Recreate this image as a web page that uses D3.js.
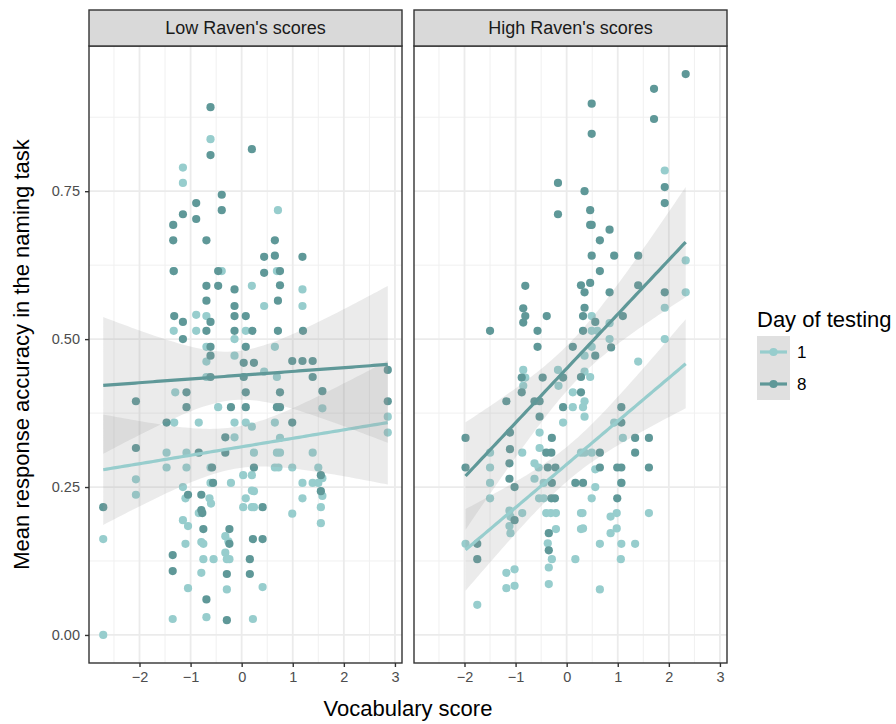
<!DOCTYPE html>
<html>
<head>
<meta charset="utf-8">
<title>Naming accuracy by vocabulary</title>
<script src="https://d3js.org/d3.v7.min.js"></script>
<style>
  body { margin: 0; background: #fff; }
  svg { display: block; }
  text { font-family: "Liberation Sans", Arial, Helvetica, sans-serif; }
</style>
</head>
<body>
<svg width="896" height="724"></svg>
<script>
// facet labels and legend levels
const facets = ["Low Raven's scores", "High Raven's scores"];
const days = ["1", "8"];
const dayColors = ["#97cdcd", "#5f9898"];
const xTicks = [-2, -1, 0, 1, 2, 3];
const yTicks = [0, 0.25, 0.5, 0.75];

// [vocabulary score, mean accuracy]
const lowDay1 = [[-0.61,0.838],[-1.15,0.790],[-1.15,0.764],[0.71,0.718],[-1.33,0.615],[-0.39,0.615],[0.69,0.615],[0.20,0.590],[1.19,0.584],[0.44,0.556],[1.19,0.556],[-0.89,0.541],[-0.69,0.539],[-1.33,0.514],[-0.89,0.514],[0.08,0.514],[-0.14,0.500],[-0.69,0.487],[0.65,0.487],[-0.14,0.472],[-0.69,0.462],[-0.69,0.436],[0.44,0.445],[0.69,0.436],[-1.30,0.410],[-0.46,0.385],[1.58,0.383],[2.86,0.369],[2.86,0.342],[-1.32,0.359],[-0.84,0.359],[-0.14,0.359],[0.08,0.359],[0.20,0.352],[0.65,0.359],[-0.14,0.334],[0.75,0.333],[-1.47,0.308],[-1.08,0.308],[0.24,0.308],[0.69,0.308],[0.75,0.308],[1.39,0.308],[-1.47,0.283],[-1.08,0.283],[-0.61,0.283],[0.65,0.283],[0.72,0.283],[0.99,0.283],[1.50,0.283],[-2.07,0.263],[-2.07,0.237],[-2.71,0.162],[-2.71,0.0],[-1.15,0.250],[-1.10,0.231],[-0.63,0.231],[-0.60,0.222],[-0.61,0.257],[-0.21,0.257],[0.03,0.270],[0.20,0.270],[0.20,0.244],[0.08,0.231],[0.03,0.216],[0.20,0.216],[-0.84,0.206],[-1.15,0.194],[-1.05,0.184],[-0.32,0.167],[-1.10,0.154],[-0.79,0.157],[-0.75,0.154],[-0.26,0.158],[-0.75,0.128],[-0.55,0.128],[-0.32,0.139],[-0.29,0.128],[-0.24,0.128],[-0.79,0.105],[-1.05,0.079],[-0.29,0.077],[-1.35,0.027],[-0.69,0.030],[0.22,0.027],[1.58,0.265],[1.19,0.257],[1.39,0.257],[1.50,0.257],[0.24,0.243],[1.58,0.235],[1.19,0.231],[0.24,0.216],[1.55,0.216],[0.99,0.205],[1.55,0.189],[0.41,0.081]];

const lowDay8 = [[-0.61,0.892],[-0.61,0.811],[0.20,0.821],[-0.39,0.744],[-0.89,0.730],[-1.15,0.711],[-0.89,0.703],[-0.39,0.718],[-1.34,0.693],[-1.34,0.667],[-0.69,0.667],[0.65,0.667],[0.44,0.639],[0.65,0.641],[1.19,0.639],[-1.33,0.615],[-0.46,0.615],[-0.69,0.590],[-0.46,0.590],[-0.14,0.584],[-0.69,0.565],[-0.14,0.556],[-1.32,0.539],[-1.15,0.529],[-0.61,0.529],[-0.14,0.539],[0.08,0.539],[-0.69,0.514],[-0.14,0.514],[0.21,0.514],[-1.15,0.500],[-0.61,0.487],[0.08,0.487],[-0.61,0.472],[0.04,0.460],[0.24,0.460],[-0.61,0.436],[0.04,0.436],[-1.08,0.410],[0.08,0.410],[-2.07,0.395],[-1.08,0.385],[-0.21,0.385],[0.08,0.385],[-1.47,0.359],[-0.32,0.334],[-2.07,0.316],[-0.84,0.308],[-0.32,0.308],[0.44,0.612],[0.75,0.615],[0.75,0.591],[0.71,0.565],[0.71,0.514],[1.20,0.514],[0.99,0.463],[1.19,0.463],[1.39,0.463],[1.39,0.436],[2.86,0.448],[0.75,0.410],[1.58,0.412],[0.69,0.385],[0.75,0.385],[2.86,0.395],[0.99,0.359],[0.24,0.283],[-2.71,0.216],[-0.58,0.283],[-1.05,0.237],[-0.79,0.237],[-0.56,0.257],[-0.79,0.211],[-0.77,0.206],[-0.75,0.179],[-0.24,0.179],[-1.35,0.135],[-0.24,0.154],[0.22,0.162],[0.16,0.128],[-1.35,0.108],[-0.29,0.103],[0.16,0.103],[-0.69,0.060],[-0.29,0.025],[1.55,0.270],[1.55,0.243],[0.41,0.216],[0.41,0.162]];

const highDay1 = [[1.92,0.785],[2.33,0.633],[2.33,0.579],[0.49,0.539],[1.92,0.553],[0.84,0.527],[0.49,0.514],[0.60,0.514],[0.84,0.500],[1.92,0.500],[0.49,0.487],[0.35,0.472],[1.40,0.462],[0.35,0.445],[0.46,0.436],[0.12,0.410],[0.35,0.395],[0.12,0.385],[0.32,0.385],[0.35,0.369],[0.93,0.359],[1.10,0.333],[0.28,0.308],[0.35,0.308],[0.49,0.308],[0.56,0.280],[-0.85,0.448],[-0.81,0.435],[-0.85,0.421],[-0.17,0.448],[-0.16,0.421],[-0.07,0.359],[-0.53,0.342],[-0.87,0.308],[-0.53,0.316],[-1.50,0.308],[-0.63,0.290],[-1.50,0.283],[-0.55,0.283],[-1.50,0.257],[-0.63,0.264],[-0.45,0.257],[-1.50,0.231],[-0.54,0.231],[-0.45,0.231],[-1.12,0.210],[-0.87,0.206],[-1.10,0.200],[-0.40,0.206],[-0.31,0.206],[-0.21,0.206],[0.28,0.206],[-1.12,0.184],[-1.10,0.172],[-0.21,0.179],[0.28,0.179],[-1.98,0.154],[-0.37,0.155],[-0.29,0.128],[0.17,0.128],[-1.18,0.105],[-1.02,0.111],[-0.35,0.114],[-1.18,0.079],[-1.02,0.083],[-0.35,0.086],[-1.75,0.051],[1.07,0.257],[0.56,0.250],[0.49,0.231],[0.31,0.206],[0.86,0.200],[0.98,0.206],[1.61,0.206],[0.32,0.180],[0.86,0.172],[0.98,0.180],[0.65,0.154],[1.07,0.154],[1.34,0.154],[1.06,0.128],[0.65,0.077]];

const highDay8 = [[0.49,0.898],[0.49,0.847],[1.71,0.923],[1.71,0.872],[2.33,0.948],[1.92,0.757],[1.92,0.730],[-0.17,0.764],[-0.17,0.711],[0.35,0.750],[0.46,0.718],[0.46,0.693],[0.49,0.693],[0.84,0.685],[0.65,0.667],[0.49,0.641],[0.93,0.641],[1.40,0.641],[0.65,0.615],[0.28,0.591],[0.46,0.595],[0.35,0.579],[0.84,0.579],[1.40,0.591],[1.92,0.579],[0.35,0.553],[0.32,0.539],[0.56,0.529],[1.10,0.539],[0.32,0.514],[0.87,0.486],[0.12,0.487],[0.56,0.472],[0.28,0.436],[0.28,0.410],[1.07,0.385],[1.07,0.359],[1.34,0.333],[1.61,0.333],[0.65,0.308],[1.34,0.308],[0.65,0.283],[0.99,0.283],[1.07,0.283],[1.61,0.283],[0.17,0.257],[0.32,0.257],[1.07,0.257],[0.99,0.231],[-0.81,0.590],[-0.85,0.552],[-0.81,0.539],[-0.85,0.528],[-0.39,0.539],[-1.50,0.514],[-0.57,0.514],[-0.57,0.487],[-0.88,0.435],[-0.47,0.435],[-0.07,0.435],[-0.88,0.410],[-1.18,0.395],[-0.63,0.395],[-0.53,0.395],[-0.07,0.385],[-0.53,0.369],[-1.98,0.333],[-1.11,0.342],[-0.29,0.333],[-1.11,0.314],[-0.40,0.308],[-0.30,0.308],[-1.12,0.290],[-1.98,0.283],[-0.37,0.283],[-0.22,0.283],[-1.12,0.264],[-1.02,0.250],[-0.29,0.257],[-0.30,0.231],[-0.23,0.231],[-1.02,0.194],[-0.35,0.172],[-1.75,0.154],[-1.75,0.128],[-0.35,0.143]];

const panelData = [[lowDay1, lowDay8], [highDay1, highDay8]];

const svg = d3.select("svg");
const panelTop = 46, panelBottom = 663, stripTop = 10;
const panelX = [[89, 402], [414, 727]];

// ggplot-like 5% expansion of the data range
const allPts = [].concat(lowDay1, lowDay8, highDay1, highDay8);
function expand(ext) { const d = (ext[1] - ext[0]) * 0.05; return [ext[0] - d, ext[1] + d]; }
const xDom = expand(d3.extent(allPts, d => d[0]));
const yDom = expand(d3.extent(allPts, d => d[1]));
const y = d3.scaleLinear().domain(yDom).range([panelBottom, panelTop]);

// linear fit with 95% confidence band, like geom_smooth(method = "lm")
function fitLm(pts) {
  const n = pts.length;
  const mx = d3.mean(pts, d => d[0]), my = d3.mean(pts, d => d[1]);
  const sxx = d3.sum(pts, d => (d[0] - mx) ** 2);
  const sxy = d3.sum(pts, d => (d[0] - mx) * (d[1] - my));
  const b = sxy / sxx, a = my - b * mx;
  const sse = d3.sum(pts, d => (d[1] - a - b * d[0]) ** 2);
  const s = Math.sqrt(sse / (n - 2));
  const t = 1.96 + 2.4 / (n - 2);
  const ext = d3.extent(pts, d => d[0]);
  const xs = d3.range(81).map(i => ext[0] + i / 80 * (ext[1] - ext[0]));
  return xs.map(xv => {
    const fit = a + b * xv;
    const hw = t * s * Math.sqrt(1 / n + (xv - mx) ** 2 / sxx);
    return { x: xv, fit: fit, lo: fit - hw, hi: fit + hw };
  });
}

const fmtY = d3.format(".2f");
const fmtX = d => d < 0 ? "\u2212" + Math.abs(d) : String(d);

panelX.forEach((px, p) => {
  const x = d3.scaleLinear().domain(xDom).range(px);
  const g = svg.append("g");

  // background grid
  const xMinor = d3.range(Math.ceil(xDom[0] * 2) / 2, xDom[1], 0.5).filter(v => !Number.isInteger(v));
  const yMinor = yTicks.map(v => v + 0.125).filter(v => v < yDom[1]);
  g.selectAll(".xminor").data(xMinor).join("line")
    .attr("x1", d => x(d)).attr("x2", d => x(d)).attr("y1", panelTop).attr("y2", panelBottom)
    .attr("stroke", "#f0f0f0").attr("stroke-width", 1);
  g.selectAll(".yminor").data(yMinor).join("line")
    .attr("x1", px[0]).attr("x2", px[1]).attr("y1", d => y(d)).attr("y2", d => y(d))
    .attr("stroke", "#f0f0f0").attr("stroke-width", 1);
  g.selectAll(".xmajor").data(xTicks).join("line")
    .attr("x1", d => x(d)).attr("x2", d => x(d)).attr("y1", panelTop).attr("y2", panelBottom)
    .attr("stroke", "#ebebeb").attr("stroke-width", 1.8);
  g.selectAll(".ymajor").data(yTicks).join("line")
    .attr("x1", px[0]).attr("x2", px[1]).attr("y1", d => y(d)).attr("y2", d => y(d))
    .attr("stroke", "#ebebeb").attr("stroke-width", 1.8);

  // points
  panelData[p].forEach((pts, k) => {
    g.append("g").selectAll("circle").data(pts).join("circle")
      .attr("cx", d => x(d[0])).attr("cy", d => y(d[1])).attr("r", 4.1)
      .attr("fill", dayColors[k]);
  });

  // smooths: ribbon then line for each group
  panelData[p].forEach((pts, k) => {
    const band = fitLm(pts);
    g.append("path").datum(band)
      .attr("d", d3.area().x(d => x(d.x)).y0(d => y(d.lo)).y1(d => y(d.hi)))
      .attr("fill", "#999999").attr("fill-opacity", 0.2);
    g.append("path").datum(band)
      .attr("d", d3.line().x(d => x(d.x)).y(d => y(d.fit)))
      .attr("fill", "none").attr("stroke", dayColors[k]).attr("stroke-width", 3.2);
  });

  // panel border
  g.append("rect").attr("x", px[0]).attr("y", panelTop)
    .attr("width", px[1] - px[0]).attr("height", panelBottom - panelTop)
    .attr("fill", "none").attr("stroke", "#333333").attr("stroke-width", 1.4);

  // strip
  g.append("rect").attr("x", px[0]).attr("y", stripTop)
    .attr("width", px[1] - px[0]).attr("height", panelTop - stripTop)
    .attr("fill", "#d9d9d9").attr("stroke", "#333333").attr("stroke-width", 1.4);
  g.append("text").attr("x", (px[0] + px[1]) / 2).attr("y", (stripTop + panelTop) / 2)
    .attr("dy", "0.35em").attr("text-anchor", "middle")
    .attr("font-size", 18).attr("fill", "#1a1a1a").text(facets[p]);

  // x axis
  const xAxis = g.append("g").attr("transform", `translate(0,${panelBottom})`)
    .call(d3.axisBottom(x).tickValues(xTicks).tickFormat(fmtX).tickSize(4).tickPadding(5));
  xAxis.select(".domain").remove();
  xAxis.selectAll("line").attr("stroke", "#333333").attr("stroke-width", 1.4);
  xAxis.selectAll("text").attr("font-size", 14.5).attr("fill", "#4d4d4d")
    .attr("font-family", "Liberation Sans, Arial, sans-serif");

  if (p === 0) {
    const yAxis = g.append("g").attr("transform", `translate(${px[0]},0)`)
      .call(d3.axisLeft(y).tickValues(yTicks).tickFormat(fmtY).tickSize(4).tickPadding(5));
    yAxis.select(".domain").remove();
    yAxis.selectAll("line").attr("stroke", "#333333").attr("stroke-width", 1.4);
    yAxis.selectAll("text").attr("font-size", 14.5).attr("fill", "#4d4d4d")
      .attr("font-family", "Liberation Sans, Arial, sans-serif");
  }
});

// axis titles
svg.append("text").attr("x", (panelX[0][0] + panelX[1][1]) / 2).attr("y", 716)
  .attr("text-anchor", "middle").attr("font-size", 22).attr("fill", "#000")
  .text("Vocabulary score");
svg.append("text")
  .attr("transform", `translate(29,${(panelTop + panelBottom) / 2}) rotate(-90)`)
  .attr("text-anchor", "middle").attr("font-size", 22).attr("fill", "#000")
  .text("Mean response accuracy in the naming task");

// legend
const lg = svg.append("g").attr("transform", "translate(757,0)");
lg.append("text").attr("x", 0).attr("y", 327).attr("font-size", 22).attr("fill", "#000")
  .text("Day of testing");
days.forEach((d, i) => {
  const cy = 352 + i * 32;
  lg.append("rect").attr("x", 0).attr("y", cy - 16).attr("width", 33).attr("height", 32)
    .attr("fill", "#f2f2f2");
  lg.append("rect").attr("x", 0).attr("y", cy - 16).attr("width", 33).attr("height", 32)
    .attr("fill", "#999999").attr("fill-opacity", 0.2);
  lg.append("line").attr("x1", 3).attr("x2", 30).attr("y1", cy).attr("y2", cy)
    .attr("stroke", dayColors[i]).attr("stroke-width", 3.2);
  lg.append("circle").attr("cx", 16.5).attr("cy", cy).attr("r", 4.1).attr("fill", dayColors[i]);
  lg.append("text").attr("x", 40).attr("y", cy).attr("dy", "0.35em")
    .attr("font-size", 17).attr("fill", "#000").text(d);
});
</script>
</body>
</html>
